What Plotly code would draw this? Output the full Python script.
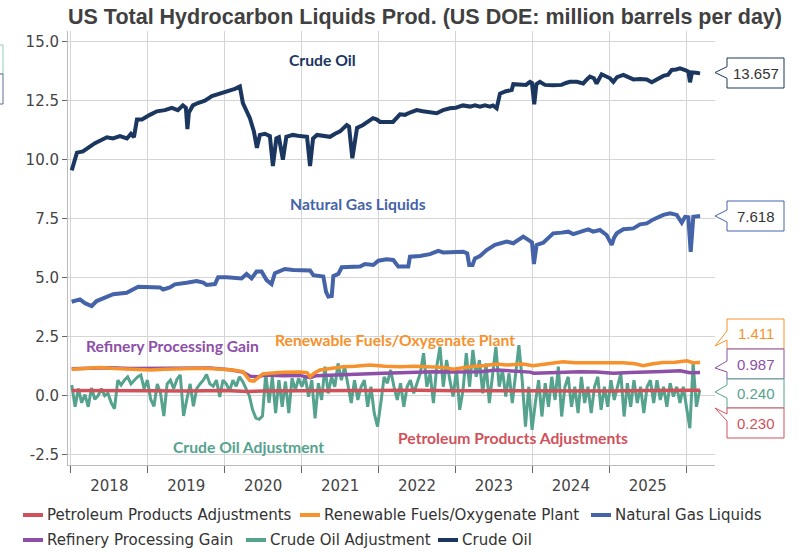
import plotly.graph_objects as go
import pandas as pd

# ---------------- data ----------------
# times are decimal years
crude_t = [2018.01, 2018.039, 2018.078, 2018.156, 2018.312, 2018.468, 2018.546, 2018.637, 2018.728,
           2018.780, 2018.819, 2018.858, 2018.923, 2019.027, 2019.118, 2019.222, 2019.313, 2019.391,
           2019.456, 2019.495, 2019.515, 2019.534, 2019.586, 2019.651, 2019.742, 2019.834, 2019.938,
           2020.042, 2020.133, 2020.198, 2020.237, 2020.328, 2020.380, 2020.419, 2020.458, 2020.523,
           2020.588, 2020.627, 2020.672, 2020.705, 2020.757, 2020.802, 2020.887, 2020.978, 2021.069,
           2021.108, 2021.147, 2021.199, 2021.277, 2021.368, 2021.433, 2021.498, 2021.585, 2021.615,
           2021.658, 2021.693, 2021.719, 2021.797, 2021.862, 2021.927, 2021.979, 2022.018, 2022.109,
           2022.187, 2022.278, 2022.343, 2022.408, 2022.495, 2022.577, 2022.668, 2022.755, 2022.837,
           2022.928, 2023.006, 2023.098, 2023.189, 2023.254, 2023.319, 2023.384, 2023.449, 2023.488,
           2023.536, 2023.579, 2023.657, 2023.731, 2023.752, 2023.839, 2023.917, 2023.969, 2023.995,
           2024.025, 2024.053, 2024.099, 2024.164, 2024.268, 2024.381, 2024.437, 2024.489, 2024.580,
           2024.662, 2024.710, 2024.749, 2024.801, 2024.836, 2024.901, 2024.957, 2025.009, 2025.052,
           2025.100, 2025.182, 2025.243, 2025.312, 2025.399, 2025.486, 2025.551, 2025.620, 2025.702,
           2025.763, 2025.811, 2025.867, 2025.919, 2025.984, 2026.027, 2026.049, 2026.075, 2026.127,
           2026.180]
crude_v = [9.55, 9.9, 10.3, 10.35, 10.7, 10.95, 10.9, 11.0, 10.9,
           11.1, 10.95, 11.7, 11.7, 11.9, 12.05, 12.1, 12.2, 12.1,
           12.3, 12.2, 11.3, 12.0, 12.3, 12.4, 12.5, 12.7, 12.8,
           12.9, 13.0, 13.1, 12.4, 11.76, 11.2, 10.5, 11.05, 11.1,
           11.0, 9.73, 10.9, 10.95, 10.0, 10.97, 11.05, 11.0, 10.97,
           9.73, 10.9, 11.05, 11.0, 10.97, 11.1, 11.2, 11.47, 11.4,
           10.06, 11.0, 11.35, 11.47, 11.6, 11.76, 11.7, 11.6, 11.6,
           11.6, 11.92, 11.9, 12.0, 12.1, 12.05, 12.03, 11.97, 12.1,
           12.18, 12.2, 12.3, 12.25, 12.3, 12.25, 12.3, 12.25, 12.3,
           12.18, 12.8, 12.9, 12.95, 13.2, 13.2, 13.17, 13.3, 13.25,
           12.35, 13.2, 13.3, 13.17, 13.15, 13.17, 13.25, 13.3, 13.3,
           13.23, 13.4, 13.52, 13.45, 13.23, 13.62, 13.55, 13.45, 13.3,
           13.5, 13.59, 13.5, 13.4, 13.42, 13.4, 13.28, 13.4, 13.55,
           13.6, 13.8, 13.82, 13.87, 13.8, 13.73, 13.28, 13.7, 13.68,
           13.657]

ngl_t = [2018.009, 2018.117, 2018.182, 2018.269, 2018.334, 2018.420, 2018.550, 2018.724, 2018.810,
         2018.875, 2019.157, 2019.200, 2019.287, 2019.352, 2019.505, 2019.635, 2019.720, 2019.765,
         2019.873, 2019.915, 2020.025, 2020.220, 2020.285, 2020.350, 2020.415, 2020.480, 2020.545,
         2020.610, 2020.653, 2020.783, 2020.891, 2021.108, 2021.151, 2021.238, 2021.281, 2021.316,
         2021.346, 2021.390, 2021.411, 2021.476, 2021.520, 2021.758, 2021.823, 2021.931, 2021.996,
         2022.105, 2022.191, 2022.256, 2022.386, 2022.408, 2022.538, 2022.668, 2022.776, 2022.841,
         2023.101, 2023.153, 2023.179, 2023.222, 2023.254, 2023.319, 2023.406, 2023.514, 2023.666,
         2023.752, 2023.882, 2023.947, 2023.995, 2024.021, 2024.056, 2024.142, 2024.272, 2024.381,
         2024.467, 2024.532, 2024.619, 2024.727, 2024.792, 2024.879, 2024.966, 2024.996, 2025.031,
         2025.061, 2025.096, 2025.182, 2025.312, 2025.399, 2025.486, 2025.572, 2025.702, 2025.789,
         2025.876, 2025.941, 2025.984, 2026.027, 2026.058, 2026.092, 2026.180]
ngl_v = [3.98, 4.08, 3.92, 3.8, 4.01, 4.13, 4.3, 4.36, 4.5,
         4.62, 4.59, 4.5, 4.59, 4.72, 4.79, 4.86, 4.79, 4.69,
         4.73, 5.02, 5.02, 4.97, 5.16, 4.97, 5.26, 5.26, 4.9,
         4.73, 5.19, 5.37, 5.33, 5.31, 5.11, 5.07, 5.05, 4.4,
         4.2, 4.22, 5.07, 5.16, 5.44, 5.47, 5.58, 5.54, 5.72,
         5.78, 5.75, 5.47, 5.47, 5.89, 5.92, 6.0, 6.14, 6.07,
         6.1, 6.03, 5.54, 5.54, 5.82, 5.92, 6.17, 6.39, 6.53,
         6.46, 6.74, 6.6, 6.5, 5.58, 6.39, 6.48, 6.88, 6.91,
         6.95, 6.85, 6.95, 7.05, 6.95, 7.02, 6.81, 6.6, 6.39,
         6.7, 6.88, 7.05, 7.09, 7.26, 7.3, 7.47, 7.66, 7.73,
         7.66, 7.33, 7.58, 7.56, 6.1, 7.58, 7.618]

renew_t = [2018.01, 2018.18, 2018.377, 2018.572, 2018.767, 2019.027, 2019.222, 2019.417, 2019.677,
           2019.873, 2020.107, 2020.237, 2020.289, 2020.328, 2020.380, 2020.419, 2020.497, 2020.588,
           2020.757, 2020.978, 2021.069, 2021.108, 2021.160, 2021.238, 2021.368, 2021.537, 2021.693,
           2021.888, 2022.083, 2022.278, 2022.473, 2022.668, 2022.863, 2022.967, 2023.058, 2023.189,
           2023.384, 2023.540, 2023.666, 2023.878, 2024.008, 2024.164, 2024.398, 2024.554, 2024.749,
           2024.944, 2025.178, 2025.334, 2025.438, 2025.568, 2025.698, 2025.854, 2026.010, 2026.088,
           2026.180]
renew_v = [1.12, 1.15, 1.19, 1.15, 1.12, 1.09, 1.12, 1.14, 1.16,
           1.14, 1.09, 1.02, 0.8, 0.64, 0.62, 0.71, 0.92, 0.95,
           0.99, 1.0, 0.98, 0.8, 0.95, 1.09, 1.15, 1.23, 1.25,
           1.3, 1.25, 1.23, 1.25, 1.23, 1.2, 1.12, 1.18, 1.23,
           1.28, 1.34, 1.3, 1.34, 1.27, 1.35, 1.44, 1.4, 1.4,
           1.38, 1.4, 1.35, 1.27, 1.35, 1.41, 1.42, 1.48, 1.4,
           1.411]

gain_t = [2018.01, 2018.247, 2018.507, 2018.767, 2019.027, 2019.287, 2019.547, 2019.807, 2020.068,
          2020.237, 2020.328, 2020.432, 2020.523, 2020.757, 2020.978, 2021.108, 2021.186, 2021.407,
          2021.628, 2021.836, 2022.057, 2022.278, 2022.499, 2022.707, 2022.928, 2023.137, 2023.319,
          2023.540, 2023.748, 2023.969, 2024.021, 2024.190, 2024.398, 2024.619, 2024.840, 2025.048,
          2025.269, 2025.490, 2025.698, 2025.919, 2026.049, 2026.180]
gain_v = [1.14, 1.16, 1.18, 1.15, 1.15, 1.17, 1.15, 1.17, 1.1,
          1.0, 0.83, 0.8, 0.88, 0.85, 0.86, 0.76, 0.85, 0.88,
          0.92, 0.93, 0.95, 0.97, 1.0, 1.02, 1.0, 1.03, 1.02,
          1.09, 1.06, 1.0, 0.95, 0.97, 1.0, 1.02, 1.0, 0.95,
          0.98, 1.02, 1.03, 1.06, 0.97, 0.987]

ppa_t = [2018.01, 2018.5, 2019.0, 2019.5, 2020.0, 2020.3, 2020.5, 2021.0, 2021.5, 2022.0,
         2022.5, 2023.0, 2023.5, 2024.0, 2024.5, 2025.0, 2025.5, 2026.0, 2026.18]
ppa_v = [0.22, 0.2, 0.21, 0.2, 0.22, 0.18, 0.2, 0.21, 0.22, 0.2,
         0.23, 0.21, 0.2, 0.22, 0.21, 0.2, 0.22, 0.21, 0.23]

# crude oil adjustment: roughly bi-weekly readings, 2018-01-05 .. 2026-03-06
coa_start, coa_end = "2018-01-05", "2026-03-06"
coa_v = [0.45, -0.47, 0.3, -0.3, 0.05, -0.47, 0.33, -0.15, 0.0, 0.3, 0.0, 0.1, -0.3, -0.55, 0.66,
         0.45, 0.66, 0.8, 0.5, 0.66, 0.8, 0.88, 0.3, 0.66, -0.15, -0.45, 0.5, 0.1, -0.86, 0.5,
         0.66, 0.3, 0.7, 0.88, -0.86, -0.15, 0.5, -0.45, 0.3, 0.5, 0.66, 0.9, 0.5, 0.4, 0.66,
         -0.05, 0.66, 0.5, 0.2, 0.66, 0.4, 0.8, 0.6, 0.3, 0.0, -0.6, -0.95, -1.0, -0.86,
         0.95, -0.3, 0.8, -0.74, 0.66, -0.47, 0.6, -0.74, 0.74, 0.24, 0.74, 0.38, 0.8, -0.04, 0.66,
         -0.96, 0.53, -0.18, 1.23, 0.1, 0.8, 0.38, 1.37, 0.66, 1.23, 0.38, -0.31, 0.66, -0.18, 0.38,
         0.66, -0.47, 0.38, -0.74, -1.31, -0.31, 0.8, 0.53, 1.09, 0.38, -0.18, 0.53, -0.47, 0.38, 0.66,
         0.1, 0.53, 0.95, 1.8, 0.38, 0.95, -0.31, 1.23, 2.07, 0.38, 1.51, 0.66, -0.04, 1.09, -0.6,
         0.24, 1.8, 0.38, 1.94, 0.8, 1.51, 0.1, 1.37, -0.31, 0.8,
         2.07, 0.38, 1.09, -0.04, 0.95, -0.31, 0.8, 2.14, 0.66, -1.31, 0.38, -1.45, -0.31, 0.66, -0.88,
         0.53, -0.47, 0.8, -0.18, 1.23, -0.88, 0.38, 0.8, -0.47, 0.38, -0.74, 0.8, -0.31, 0.38, -0.74,
         0.38, 0.8, -0.6, 0.38, -0.47, 0.66, -0.18, 0.38, 0.95, -0.88, 0.53, -0.47, 0.66, -0.31, 0.38,
         -0.74, 0.38, 0.66, -0.31, 0.66, -0.18, 0.38, -0.47, 0.53, -0.04, 0.38, -0.31, 0.38, -0.6, -1.38,
         1.37, -0.47, 0.24]

last_labels = ["13.657", "7.618", "1.411", "0.987", "0.240", "0.230"]

# ---------------- helpers ----------------
def to_date(d):
    y = int(d)
    return pd.Timestamp(year=y, month=1, day=1) + pd.Timedelta(days=(d - y) * 365.25)

def dates(ts):
    return [to_date(t) for t in ts]

W, H = 807, 552
ML, MR, MT, MB = 68, 92, 31, 87
PW, PH = W - ML - MR, H - MT - MB

def px(x):
    return (x - ML) / PW

def py(y):
    return (H - MB - y) / PH

C_CRUDE = "#1b365f"
C_NGL = "#4563a8"
C_REN = "#f7912c"
C_GAIN = "#8d4fa7"
C_COA = "#55a38e"
C_PPA = "#d1515b"

fig = go.Figure()

coa_x = pd.date_range(coa_start, coa_end, periods=len(coa_v))

traces = [
    ("Crude Oil Adjustment", coa_x, coa_v, C_COA, 3),
    ("Refinery Processing Gain", dates(gain_t), gain_v, C_GAIN, 3.5),
    ("Renewable Fuels/Oxygenate Plant", dates(renew_t), renew_v, C_REN, 3.5),
    ("Petroleum Products Adjustments", dates(ppa_t), ppa_v, C_PPA, 3.5),
    ("Natural Gas Liquids", dates(ngl_t), ngl_v, C_NGL, 4),
    ("Crude Oil", dates(crude_t), crude_v, C_CRUDE, 4),
]
for name, x, y, col, w in traces:
    fig.add_trace(go.Scatter(x=x, y=y, name=name, mode="lines",
                             line=dict(color=col, width=w),
                             showlegend=False, hoverinfo="skip"))

annotations = []
shapes = []

# series labels inside the plot
FONT_LBL = "Lato"
labels = [
    ("Crude Oil", 322, 60, C_CRUDE),
    ("Natural Gas Liquids", 358, 204, C_NGL),
    ("Refinery Processing Gain", 172, 346, C_GAIN),
    ("Renewable Fuels/Oxygenate Plant", 395, 340, C_REN),
    ("Crude Oil Adjustment", 248, 447, C_COA),
    ("Petroleum Products Adjustments", 513, 438, C_PPA),
]
for t, x, y, c in labels:
    annotations.append(dict(text="<b>%s</b>" % t, x=px(x), y=py(y), xref="paper", yref="paper",
                            showarrow=False, font=dict(family=FONT_LBL, size=15.7, color=c),
                            xanchor="center", yanchor="middle"))

# callout value labels on the right
BX0, BX1, TIPX = 727, 784, 715
callouts = [
    (last_labels[0], C_CRUDE, "#333333", 58, 88, 66.7, 72.5, 78.3),
    (last_labels[1], C_NGL, "#333333", 201, 231, 210, 216, 222),
    (last_labels[2], C_REN, C_REN, 319, 349, 331, 346, 340),
    (last_labels[3], C_GAIN, C_GAIN, 349, 379, 361, 368, 372),
    (last_labels[4], C_COA, C_COA, 379, 408, 385, 392, 398),
    (last_labels[5], C_PPA, C_PPA, 408, 438, 414, 408, 421),
]
for txt, bc, tc, top, bot, na, tip, nb in callouts:
    path = ("M {a},{b} L {c},{b} L {c},{d} L {a},{d} L {a},{e} L {f},{g} L {a},{h} Z"
            .format(a=px(BX0), b=py(top), c=px(BX1), d=py(bot), e=py(nb), f=px(TIPX),
                    g=py(tip), h=py(na)))
    shapes.append(dict(type="path", path=path, xref="paper", yref="paper",
                       line=dict(color=bc, width=1), fillcolor="white", layer="above"))
    annotations.append(dict(text=txt, x=px((BX0 + BX1) / 2), y=py((top + bot) / 2),
                            xref="paper", yref="paper", showarrow=False,
                            font=dict(family="Liberation Sans", size=15, color=tc),
                            xanchor="center", yanchor="middle"))

# clipped boxes at the far left edge
shapes.append(dict(type="rect", xref="paper", yref="paper", x0=px(-60), x1=px(3),
                   y0=py(74), y1=py(45), line=dict(color="#8fcbbb", width=1), fillcolor="white"))
shapes.append(dict(type="rect", xref="paper", yref="paper", x0=px(-60), x1=px(3),
                   y0=py(104), y1=py(74), line=dict(color="#5a6f8f", width=1), fillcolor="white"))

# legend (two rows, packed like the reference)
legend_rows = [
    [("Petroleum Products Adjustments", C_PPA, 45), ("Renewable Fuels/Oxygenate Plant", C_REN, 322),
     ("Natural Gas Liquids", C_NGL, 613)],
    [("Refinery Processing Gain", C_GAIN, 45), ("Crude Oil Adjustment", C_COA, 268),
     ("Crude Oil", C_CRUDE, 460)],
]
row_y = [515, 540]
for row, yy in zip(legend_rows, row_y):
    for name, col, tx in row:
        shapes.append(dict(type="line", xref="paper", yref="paper", x0=px(tx - 22), x1=px(tx - 2),
                           y0=py(yy), y1=py(yy), line=dict(color=col, width=4)))
        annotations.append(dict(text=name, x=px(tx), y=py(yy), xref="paper", yref="paper",
                                showarrow=False, xanchor="left", yanchor="middle",
                                font=dict(family="DejaVu Sans", size=15, color="#333333")))

TICKFONT = dict(family="DejaVu Sans", size=15, color="#444444")
fig.update_layout(
    width=W, height=H,
    margin=dict(l=ML, r=MR, t=MT, b=MB, autoexpand=False),
    paper_bgcolor="white", plot_bgcolor="white",
    showlegend=False,
    title=dict(text="<b>US Total Hydrocarbon Liquids Prod. (US DOE: million barrels per day)</b>",
               x=px(68), xanchor="left", xref="paper", y=1 - 16 / H, yanchor="middle",
               font=dict(family="Liberation Sans", size=21.5, color="#404040")),
    xaxis=dict(type="date", range=[to_date(2017.961), to_date(2026.374)], automargin=False,
               dtick="M12", tick0="2018-01-01", tickformat="%Y", ticklabelmode="period",
               ticks="outside", ticklen=7, tickcolor="#666666", showline=True,
               linecolor="#bbbbbb", linewidth=1, showgrid=True, gridcolor="#d5d5d5",
               gridwidth=1, tickfont=TICKFONT, zeroline=False),
    yaxis=dict(range=[-2.936, 15.453], tickvals=[-2.5, 0, 2.5, 5, 7.5, 10, 12.5, 15],
               ticktext=["-2.5", "0.0", "2.5", "5.0", "7.5", "10.0", "12.5", "15.0"],
               automargin=False,
               ticks="outside", ticklen=5, tickcolor="#666666", showline=True,
               linecolor="#bbbbbb", linewidth=1, showgrid=True, gridcolor="#d5d5d5",
               gridwidth=1, tickfont=TICKFONT, zeroline=False),
    annotations=annotations,
    shapes=shapes,
)

fig.write_html("out.html", config={"displayModeBar": False},
               post_script="document.body.style.margin='0';document.body.style.overflow='hidden';")
